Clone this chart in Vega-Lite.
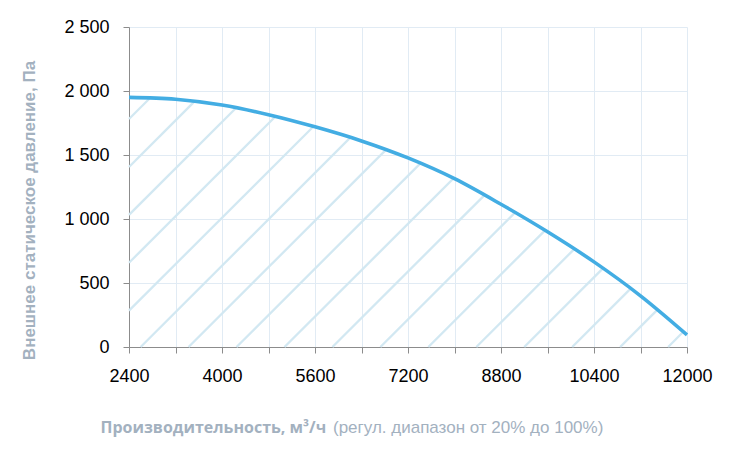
{
  "$schema": "https://vega.github.io/schema/vega-lite/v6.json",
  "width": 558,
  "height": 320,
  "autosize": "none",
  "padding": {"left": 129, "top": 27, "right": 45, "bottom": 120},
  "background": "white",
  "title": {
    "text": "(регул. диапазон от 20% до 100%)",
    "orient": "bottom",
    "anchor": "start",
    "frame": "group",
    "dx": 204,
    "offset": -15,
    "font": "Liberation Sans",
    "fontSize": 17,
    "fontWeight": "normal",
    "color": "#a3b1bf"
  },
  "datasets": {
    "curve": [
      {"q": 2400, "p": 1950}, {"q": 3200, "p": 1935}, {"q": 4000, "p": 1890},
      {"q": 4800, "p": 1815}, {"q": 5600, "p": 1720}, {"q": 6400, "p": 1610},
      {"q": 7200, "p": 1477}, {"q": 8000, "p": 1315}, {"q": 8800, "p": 1115},
      {"q": 9600, "p": 900}, {"q": 10400, "p": 665}, {"q": 11200, "p": 400},
      {"q": 12000, "p": 95}
    ],
    "hatch": [
      {"x": 2400, "y": 1781, "x2": 2758, "y2": 1943},
      {"x": 2400, "y": 1406, "x2": 3524, "y2": 1917},
      {"x": 2400, "y": 1032, "x2": 4241, "y2": 1867},
      {"x": 2400, "y": 658, "x2": 4919, "y2": 1801},
      {"x": 2400, "y": 284, "x2": 5573, "y2": 1723},
      {"x": 2600, "y": 0, "x2": 6207, "y2": 1636},
      {"x": 3425, "y": 0, "x2": 6820, "y2": 1540},
      {"x": 4250, "y": 0, "x2": 7413, "y2": 1435},
      {"x": 5075, "y": 0, "x2": 7985, "y2": 1318},
      {"x": 5900, "y": 0, "x2": 8517, "y2": 1187},
      {"x": 6725, "y": 0, "x2": 9040, "y2": 1050},
      {"x": 7550, "y": 0, "x2": 9558, "y2": 911},
      {"x": 8375, "y": 0, "x2": 10060, "y2": 765},
      {"x": 9200, "y": 0, "x2": 10554, "y2": 614},
      {"x": 10025, "y": 0, "x2": 11030, "y2": 456},
      {"x": 10850, "y": 0, "x2": 11489, "y2": 290},
      {"x": 11675, "y": 0, "x2": 11937, "y2": 119}
    ]
  },
  "layer": [
    {
      "data": {"name": "hatch"},
      "mark": {"type": "rule", "color": "#d2e8f2", "strokeWidth": 2.3},
      "encoding": {
        "x": {"field": "x", "type": "quantitative", "scale": {"domain": [2400, 12000], "nice": false, "zero": false},
          "axis": {
            "values": [2400, 3200, 4000, 4800, 5600, 6400, 7200, 8000, 8800, 9600, 10400, 11200, 12000],
            "labelExpr": "(datum.value - 2400) % 1600 == 0 ? '' + datum.value : ''",
            "labelFlush": false,
            "labelOverlap": false,
            "title": "Производительность, м³/ч",
            "titleX": -29,
            "titleY": 80,
            "titleAlign": "left",
            "titleBaseline": "middle",
            "titleFont": "Open Sans",
            "titleFontSize": 16,
            "titleFontWeight": "bold",
            "titleColor": "#a3b1bf"
          }},
        "y": {"field": "y", "type": "quantitative", "scale": {"domain": [0, 2500], "nice": false},
          "axis": {
            "values": [0, 500, 1000, 1500, 2000, 2500],
            "labelExpr": "replace(format(datum.value, ','), ',', ' ')",
            "labelFlush": false,
            "title": "Внешнее статическое давление, Па",
            "titleX": -100,
            "titleY": 183,
            "titleAngle": -90,
            "titleAlign": "center",
            "titleBaseline": "middle",
            "titleFont": "Liberation Sans",
            "titleFontSize": 17,
            "titleFontWeight": "bold",
            "titleColor": "#a3b1bf"
          }},
        "x2": {"field": "x2"},
        "y2": {"field": "y2"}
      }
    },
    {
      "data": {"name": "curve"},
      "mark": {"type": "line", "color": "#43ade3", "strokeWidth": 3.6, "interpolate": "monotone"},
      "encoding": {
        "x": {"field": "q", "type": "quantitative"},
        "y": {"field": "p", "type": "quantitative"}
      }
    }
  ],
  "config": {
    "view": {"stroke": null},
    "axis": {
      "gridColor": "#e1ebf4",
      "gridWidth": 1,
      "domainColor": "#8c8c8c",
      "tickColor": "#8c8c8c",
      "tickSize": 6,
      "labelFont": "Liberation Sans",
      "labelFontSize": 18,
      "labelColor": "#000000"
    },
    "axisX": {"labelPadding": 14},
    "axisY": {"labelPadding": 14}
  }
}
